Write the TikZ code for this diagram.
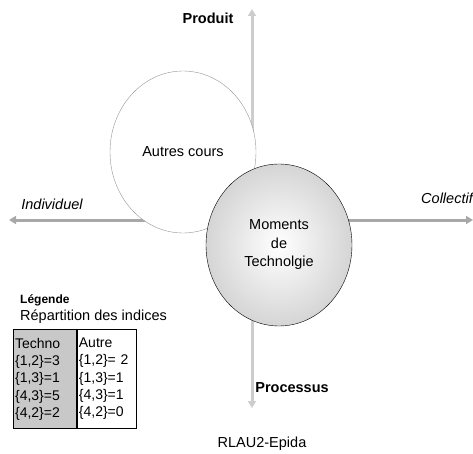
\documentclass[tikz,border=0pt]{standalone}
\usepackage{fontspec}
\setmainfont{Liberation Sans}
\usetikzlibrary{arrows.meta,positioning,shapes.geometric}
\definecolor{axisgray}{RGB}{168,168,168}
\definecolor{paleaxis}{RGB}{205,205,205}
\definecolor{cellgray}{RGB}{200,200,200}
\definecolor{rimgray}{RGB}{150,150,150}

\begin{document}
\begin{tikzpicture}[x=1pt,y=-1pt,font=\fontsize{14.5}{17}\selectfont,
    axe/.style={line width=3pt,{Triangle[length=7pt,width=8pt]}-{Triangle[length=7pt,width=8pt]}},
    bulle/.style={ellipse,draw,inner sep=0pt,minimum width=146pt,minimum height=162pt},
    colonne/.style={draw,rectangle,anchor=north west,align=left,inner sep=1.5pt,
        minimum height=99pt,font=\fontsize{14}{17.3}\selectfont}]
    \useasboundingbox (0,0) rectangle (473,454);

    % Axes
    \coordinate (haut) at (252,9);
    \coordinate (bas) at (252,408);
    \coordinate (gauche) at (9,220);
    \coordinate (droite) at (473,220);
    \draw[axe, paleaxis] (haut) -- (bas);
    \draw[axe, axisgray] (gauche) -- (droite);
    \node[font=\fontsize{14.5}{17}\selectfont\bfseries] (produit) at (208,18) {Produit};
    \node[font=\fontsize{14.5}{17}\selectfont\bfseries] (processus) at (292,388) {Processus};
    \node[font=\fontsize{14.5}{17}\selectfont\itshape] (indiv) at (52,204) {Individuel};
    \node[font=\fontsize{14.5}{17}\selectfont\itshape, anchor=east, inner sep=0pt] (collectif) at (473,198) {Collectif};

    % Bulles
    \node[bulle, draw=rimgray, fill=white] (autres) at (183,152) {Autres cours};
    \node[bulle, draw=black, inner color=white, outer color=gray!33, align=center,
        font=\fontsize{14.5}{18.5}\selectfont] (moments) at (279,245)
        {Moments\\de\\Technolgie};

    % Legende
    \node[anchor=west, inner sep=0pt, font=\fontsize{12}{14}\selectfont\bfseries] (legende) at (20,300) {Légende};
    \node[anchor=west, inner sep=0pt, font=\fontsize{14.5}{17}\selectfont] (repart) at (20,317) {Répartition des indices};
    \node[colonne, fill=cellgray, line width=1.2pt, minimum width=63pt, text width=60pt] (techno) at (13,329)
        {Techno\\\{1,2\}=3\\\{1,3\}=1\\\{4,3\}=5\\\{4,2\}=2};
    \node[colonne, fill=white, minimum width=59pt, text width=56pt] (autre) at (techno.north east)
        {Autre\\\{1,2\}= 2\\\{1,3\}=1\\\{4,3\}=1\\\{4,2\}=0};

    \node (source) at (262,444) {RLAU2-Epida};
\end{tikzpicture}
\end{document}
